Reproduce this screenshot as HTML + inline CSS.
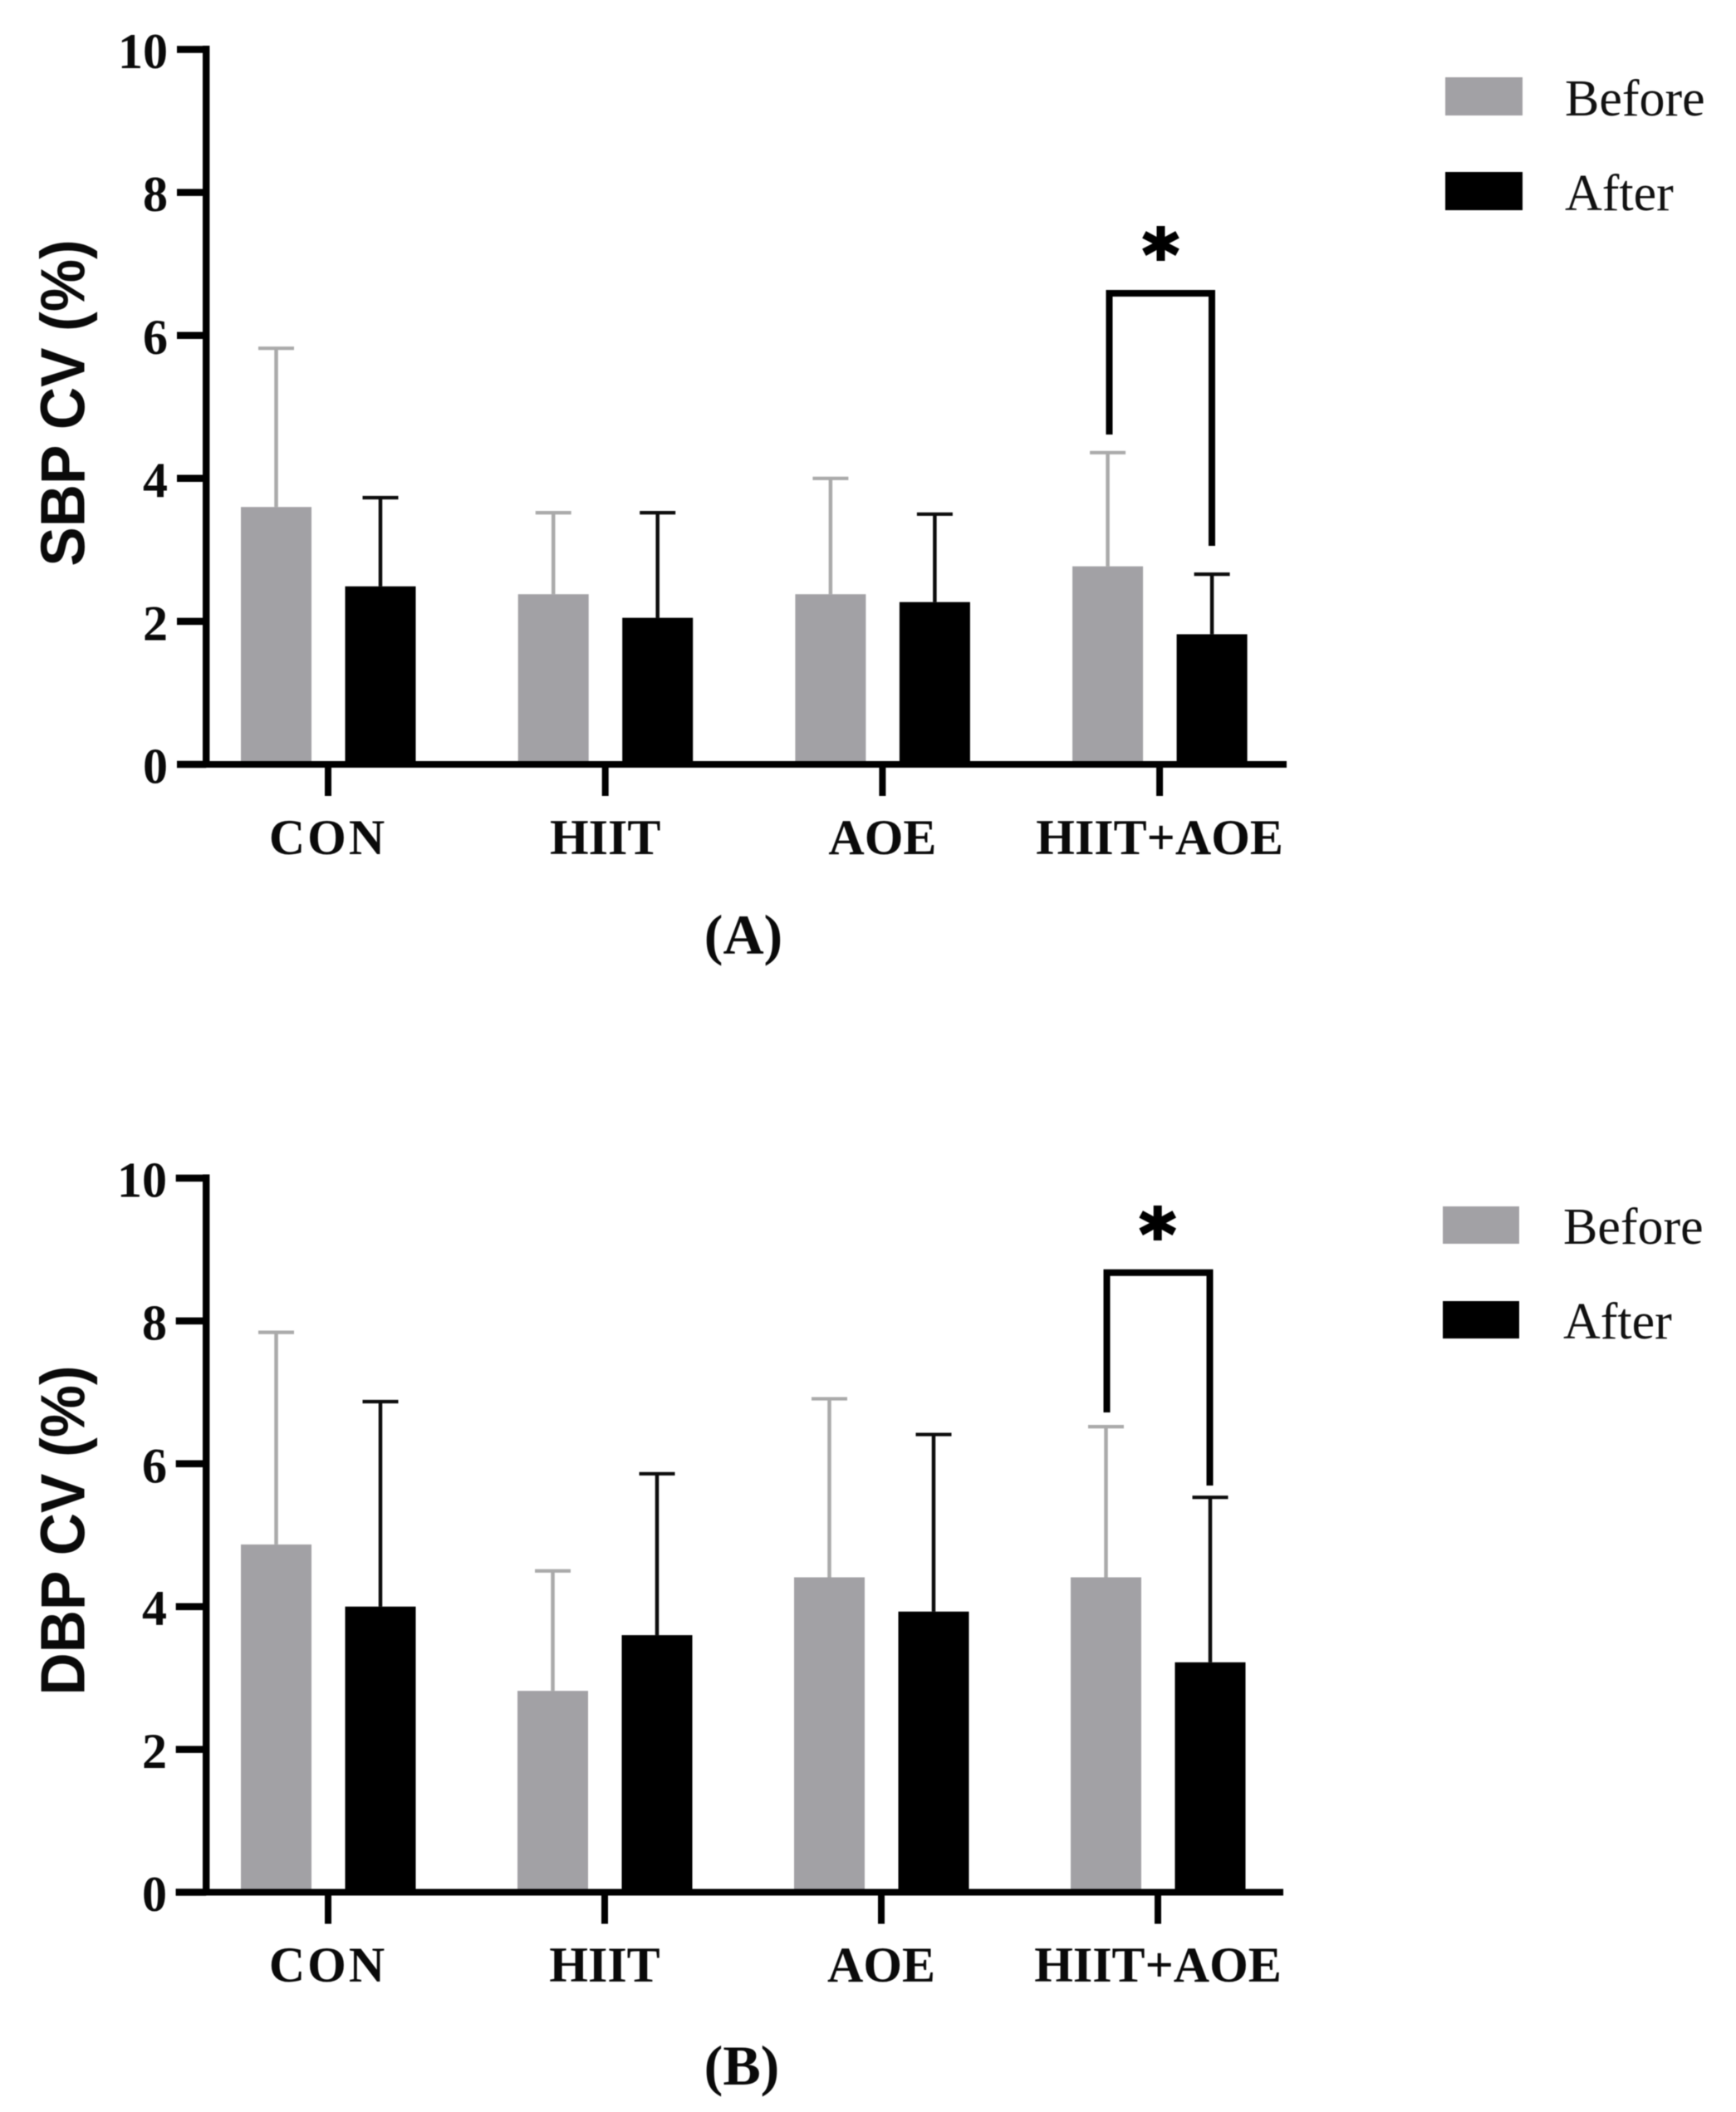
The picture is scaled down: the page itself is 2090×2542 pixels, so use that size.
<!DOCTYPE html>
<html lang="en">
<head>
<meta charset="utf-8">
<title>SBP and DBP coefficient of variation before and after training</title>
<style>
  html, body { margin: 0; padding: 0; background: #fff; }
  svg { display: block; filter: blur(0.5px); }
  .tick-label, .cat-label { font-family: "Liberation Serif", serif; font-weight: 700; fill: #0a0a0a; }
  .axis-title { font-family: "Liberation Sans", sans-serif; font-weight: 700; fill: #0a0a0a; font-size: 71px; }
  .legend-text { font-family: "Liberation Serif", serif; fill: #111; font-size: 62px; }
  .panel-label { font-family: "Liberation Serif", serif; font-weight: 700; fill: #0a0a0a; font-size: 68px; }
  .star { font-family: "DejaVu Sans", sans-serif; font-weight: 700; fill: #000; stroke: #000; stroke-width: 3px; font-size: 84px; }
</style>
</head>
<body>
<svg id="figure" xmlns="http://www.w3.org/2000/svg" width="2090" height="2542" viewBox="0 0 2090 2542">
  <rect x="0" y="0" width="2090" height="2542" fill="#ffffff"/>

  <g id="panel-a">
    <text class="axis-title" transform="translate(101.5 485) rotate(-90) scale(1 1.06)" text-anchor="middle">SBP CV (%)</text>
    <rect x="1740" y="93" width="93" height="46" fill="#a2a1a5"/>
    <text class="legend-text" x="1884" y="139">Before</text>
    <rect x="1740" y="207" width="93" height="46" fill="#000000"/>
    <text class="legend-text" x="1884" y="253">After</text>
    <text class="panel-label" x="895" y="1148" text-anchor="middle">(A)</text>
  </g>

  <g id="panel-b">
    <text class="axis-title" transform="translate(101.5 1842) rotate(-90) scale(1 1.06)" text-anchor="middle">DBP CV (%)</text>
    <rect x="1737" y="1452" width="92" height="45" fill="#a2a1a5"/>
    <text class="legend-text" x="1882" y="1497">Before</text>
    <rect x="1737" y="1566" width="92" height="45" fill="#000000"/>
    <text class="legend-text" x="1882" y="1611">After</text>
    <text class="panel-label" x="893" y="2509" text-anchor="middle">(B)</text>
  </g>
</svg>

<script>
const categories = ["CON", "HIIT", "AOE", "HIIT+AOE"];
const yTicks = [0, 2, 4, 6, 8, 10];

const sbpBefore = [3.60, 2.38, 2.38, 2.77];
const sbpAfter = [2.49, 2.05, 2.27, 1.82];
const sbpBeforeErrTop = [5.82, 3.52, 4.00, 4.36];
const sbpAfterErrTop = [3.73, 3.52, 3.50, 2.66];

const dbpBefore = [4.87, 2.82, 4.41, 4.41];
const dbpAfter = [4.00, 3.60, 3.93, 3.22];
const dbpBeforeErrTop = [7.84, 4.50, 6.91, 6.52];
const dbpAfterErrTop = [6.87, 5.86, 6.41, 5.53];

const SVG_NS = "http://www.w3.org/2000/svg";

function mk(tag, attrs, parent) {
  const el = document.createElementNS(SVG_NS, tag);
  for (const k in attrs) el.setAttribute(k, attrs[k]);
  parent.appendChild(el);
  return el;
}

function drawPanel(group, o) {
  const yScale = v => o.y0 - (v / 10) * (o.y0 - o.y10);
  const xCenter = i => o.firstTick + i * o.step;
  const barW = 85;
  const GREY = "#a2a1a5";
  const ERR_GREY = "#aaaaaa";

  const drawBar = (cx, value, fill, name) => {
    const top = yScale(value);
    const bar = mk("rect", { x: cx - barW / 2, y: top, width: barW, height: o.y0 - top, fill: fill }, group);
    
    
  };

  const drawErr = (cx, value, errTop, stroke, name) => {
    const yTop = yScale(errTop);
    const yBase = yScale(value);
    const err = mk("g", { stroke: stroke, fill: "none" }, group);
    
    
    mk("line", { x1: cx, x2: cx, y1: yBase, y2: yTop, "stroke-width": 4.5 }, err);
    mk("line", { x1: cx - 21.5, x2: cx + 21.5, y1: yTop, y2: yTop, "stroke-width": 4.2 }, err);
  };

  categories.forEach((cat, i) => {
    const tickX = xCenter(i);
    const beforeX = tickX - 62.5;
    const afterX = tickX + 63;
    drawErr(beforeX, o.before[i], o.beforeErr[i], ERR_GREY, "error-bar-before-" + cat.toLowerCase());
    drawErr(afterX, o.after[i], o.afterErr[i], "#0c0c0c", "error-bar-after-" + cat.toLowerCase());
    drawBar(beforeX, o.before[i], GREY, "bar-before-" + cat.toLowerCase());
    drawBar(afterX, o.after[i], "#000000", "bar-after-" + cat.toLowerCase());
  });

  const yAxis = mk("line", { x1: o.axisX, x2: o.axisX, y1: o.y10 - 4.5, y2: o.y0 + 4, stroke: "#000", "stroke-width": 8.4 }, group);
  
  

  const xAxis = mk("line", { x1: o.tickLeft, x2: o.axisEnd, y1: o.y0, y2: o.y0, stroke: "#000", "stroke-width": 8 }, group);
  
  

  yTicks.forEach(t => {
    const y = yScale(t);
    const mark = mk("line", { x1: o.tickLeft, x2: o.axisX, y1: y, y2: y, stroke: "#000", "stroke-width": 8.5 }, group);
    
    
    const label = mk("text", { x: o.labelRight, y: y + 22.5, "text-anchor": "end", "font-size": 60, class: "tick-label" }, group);
    
    
    label.textContent = String(t);
  });

  categories.forEach((cat, i) => {
    const x = xCenter(i);
    const mark = mk("line", { x1: x, x2: x, y1: o.y0, y2: o.y0 + 38, stroke: "#000", "stroke-width": 8 }, group);
    
    
    const label = mk("text", { x: x, y: o.catBaseline, "text-anchor": "middle", "font-size": 60, class: "cat-label" }, group);
    if (cat === "CON") label.setAttribute('letter-spacing', '3');
    
    
    label.textContent = cat;
  });

  const b = o.bracket;
  const bracket = mk("path", {
    d: "M" + b.left + " " + b.leftBottom + "V" + b.top + "H" + b.right + "V" + b.rightBottom,
    fill: "none", stroke: "#000", "stroke-width": 8, "stroke-linejoin": "miter"
  }, group);
  
  

  const star = mk("text", { x: b.starX, y: b.starBaseline, "text-anchor": "middle", class: "star" }, group);
  
  
  star.textContent = "*";
}

drawPanel(document.getElementById("panel-a"), {
  before: sbpBefore, after: sbpAfter, beforeErr: sbpBeforeErrTop, afterErr: sbpAfterErrTop,
  y0: 920, y10: 59.5, axisX: 248.2, tickLeft: 213, axisEnd: 1549, labelRight: 202,
  firstTick: 395, step: 333.7, catBaseline: 1028,
  bracket: { left: 1335.5, right: 1459, top: 353, leftBottom: 523, rightBottom: 657, starX: 1397.5, starBaseline: 336 }
});

drawPanel(document.getElementById("panel-b"), {
  before: dbpBefore, after: dbpAfter, beforeErr: dbpBeforeErrTop, afterErr: dbpAfterErrTop,
  y0: 2277.5, y10: 1418, axisX: 248.2, tickLeft: 211.7, axisEnd: 1545, labelRight: 201,
  firstTick: 395, step: 333, catBaseline: 2385,
  bracket: { left: 1332.5, right: 1456.5, top: 1531.7, leftBottom: 1700, rightBottom: 1788, starX: 1393.7, starBaseline: 1515 }
});
</script>
</body>
</html>
